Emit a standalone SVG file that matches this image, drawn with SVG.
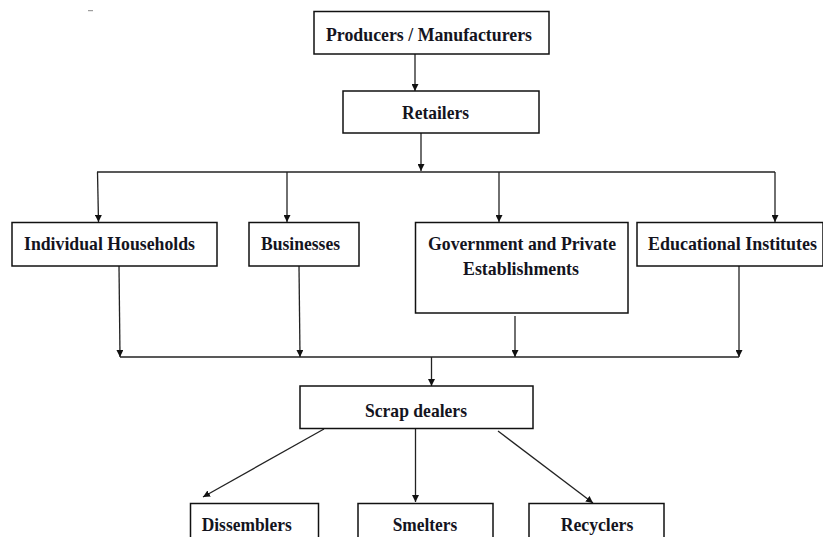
<svg xmlns="http://www.w3.org/2000/svg" width="823" height="537" viewBox="0 0 823 537">
<style>
.box{fill:#fff;stroke:#111;stroke-width:1.5}
.t{font-family:"Liberation Serif","Times New Roman",serif;font-weight:bold;font-size:19px;fill:#14141e;text-anchor:middle}
.c{stroke:#222;stroke-width:1.3;fill:none}
.a{marker-end:url(#ah)}
</style>
<defs>
<marker id="ah" viewBox="0 0 10 10" refX="10" refY="5" markerWidth="7" markerHeight="7" markerUnits="userSpaceOnUse" orient="auto">
<path d="M0,0 L10,5 L0,10 Z" fill="#111"/>
</marker>
</defs>
<rect width="823" height="537" fill="#fff"/>
<line x1="88" y1="10.7" x2="93" y2="10.7" stroke="#888" stroke-width="1"/>
<g id="connectors">
<line class="c a" x1="415" y1="54" x2="415" y2="91"/>
<line class="c a" x1="421" y1="133" x2="421" y2="171"/>
<line class="c" x1="97" y1="172" x2="775" y2="172"/>
<line class="c a" x1="97.5" y1="172" x2="98.5" y2="222"/>
<line class="c a" x1="287" y1="172" x2="287" y2="222"/>
<line class="c a" x1="499" y1="172" x2="499" y2="222"/>
<line class="c a" x1="775" y1="172" x2="775" y2="222"/>
<line class="c a" x1="119" y1="266" x2="120" y2="357"/>
<line class="c a" x1="299" y1="266" x2="300" y2="357"/>
<line class="c a" x1="515" y1="316" x2="515" y2="357"/>
<line class="c a" x1="739" y1="266" x2="739" y2="357"/>
<line class="c" x1="120" y1="357" x2="739" y2="357"/>
<line class="c a" x1="431.5" y1="357" x2="431.5" y2="386"/>
<line class="c a" x1="324" y1="429" x2="203" y2="497"/>
<line class="c a" x1="415.5" y1="429" x2="415.5" y2="502"/>
<line class="c a" x1="498" y1="431" x2="593" y2="503"/>
</g>
<g id="producers"><rect class="box" x="314" y="11.5" width="235" height="42.5"/><text class="t" x="429" y="41" textLength="206" lengthAdjust="spacingAndGlyphs">Producers / Manufacturers</text></g>
<g id="retailers"><rect class="box" x="343" y="91" width="196" height="42"/><text class="t" x="435.5" y="119" textLength="67" lengthAdjust="spacingAndGlyphs">Retailers</text></g>
<g id="households"><rect class="box" x="12" y="222.5" width="205" height="43.5"/><text class="t" x="109.5" y="250" textLength="171" lengthAdjust="spacingAndGlyphs">Individual Households</text></g>
<g id="businesses"><rect class="box" x="249" y="222.5" width="110" height="43.5"/><text class="t" x="300.5" y="250" textLength="79" lengthAdjust="spacingAndGlyphs">Businesses</text></g>
<g id="government"><rect class="box" x="415.5" y="222.5" width="212.5" height="90.5"/><text class="t" x="522" y="250" textLength="188" lengthAdjust="spacingAndGlyphs">Government and Private</text><text class="t" x="521" y="275" textLength="116" lengthAdjust="spacingAndGlyphs">Establishments</text></g>
<g id="educational"><rect class="box" x="637" y="222.5" width="186" height="43.5"/><text class="t" x="732.5" y="250" textLength="169" lengthAdjust="spacingAndGlyphs">Educational Institutes</text></g>
<g id="scrap"><rect class="box" x="300" y="386" width="233" height="42.5"/><text class="t" x="416" y="416.5" textLength="102" lengthAdjust="spacingAndGlyphs">Scrap dealers</text></g>
<g id="dissemblers"><rect class="box" x="190.5" y="503.5" width="128" height="45"/><text class="t" x="246.7" y="531" textLength="90" lengthAdjust="spacingAndGlyphs">Dissemblers</text></g>
<g id="smelters"><rect class="box" x="358" y="503.5" width="135" height="45"/><text class="t" x="425" y="531" textLength="64.6" lengthAdjust="spacingAndGlyphs">Smelters</text></g>
<g id="recyclers"><rect class="box" x="529" y="503.5" width="135" height="45"/><text class="t" x="597" y="531" textLength="72.7" lengthAdjust="spacingAndGlyphs">Recyclers</text></g>
</svg>
